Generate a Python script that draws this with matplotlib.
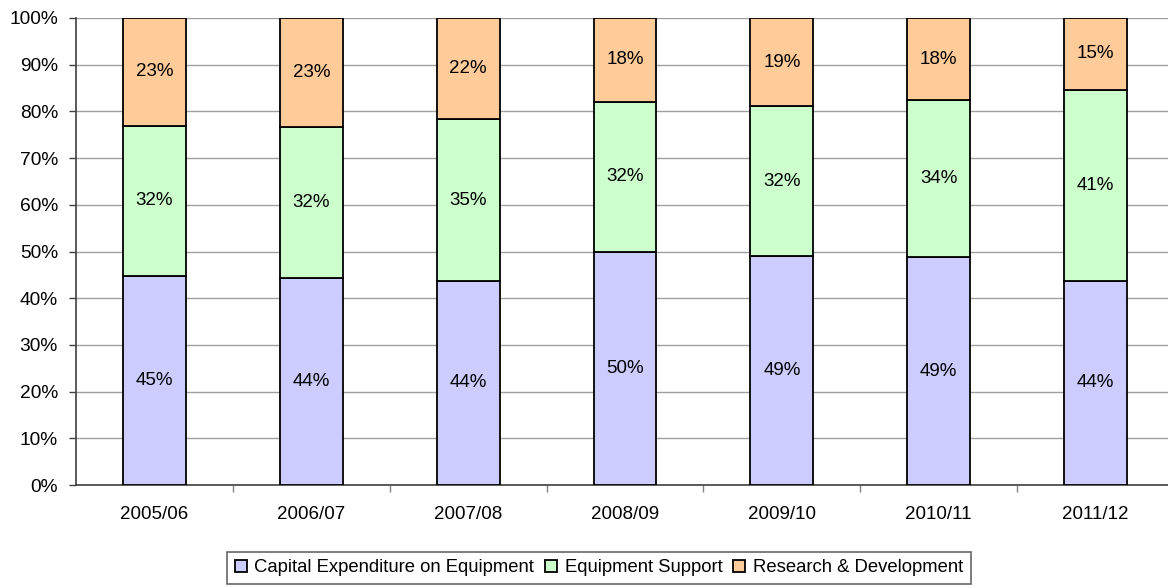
import numpy as np
import matplotlib.pyplot as plt

plt.rcParams['font.family'] = ['Liberation Sans', 'DejaVu Sans']

years = ['2005/06', '2006/07', '2007/08', '2008/09', '2009/10', '2010/11', '2011/12']
capex = [44.8, 44.3, 43.7, 49.9, 49.0, 48.8, 43.7]
support = [32.1, 32.3, 34.6, 32.2, 32.1, 33.6, 40.9]
rnd = [23.1, 23.4, 21.7, 17.9, 18.9, 17.6, 15.4]

series = [
  ('Capital Expenditure on Equipment', capex, '#CCCCFF'),
  ('Equipment Support', support, '#CCFFCC'),
  ('Research & Development', rnd, '#FFCC99'),
]

fig = plt.figure(figsize=(11.68, 5.88), dpi=100)
ax = fig.add_axes([76/1168, 103/588, 1098/1168, 467/588])

x = np.arange(len(years))
bottom = np.zeros(len(years))
for name, vals, col in series:
  bars = ax.bar(x, vals, 0.40, bottom=bottom, color=col, edgecolor='black',
                linewidth=1.3, label=name, zorder=3)
  ax.bar_label(bars, labels=[f'{v:.0f}%' for v in vals], label_type='center',
               fontsize=13.5, color='black', zorder=4)
  bottom += np.array(vals)

ax.set_xlim(-0.5, len(years) - 0.5)
ax.set_ylim(0, 100)
ax.set_yticks(np.arange(0, 101, 10))
ax.set_yticklabels([f'{v}%' for v in range(0, 101, 10)])
ax.yaxis.grid(True, color='#A0A0A0', linewidth=1.0)
ax.set_axisbelow(True)

ax.set_xticks(x)
ax.set_xticklabels(years)
ax.set_xticks(np.arange(len(years)) + 0.5, minor=True)
ax.tick_params(axis='x', which='major', length=0, pad=15, labelsize=13.5)
ax.tick_params(axis='x', which='minor', length=5, color='#808080', width=1)
ax.tick_params(axis='y', length=5, width=1, color='#404040', pad=8, labelsize=13.8)

for s in ('top', 'right'):
  ax.spines[s].set_visible(False)
ax.spines['left'].set_color('#404040')
ax.spines['bottom'].set_color('#404040')
ax.spines['left'].set_linewidth(1.2)
ax.spines['bottom'].set_linewidth(1.2)

leg = fig.legend(loc='center', bbox_to_anchor=(599/1168, 1 - 568/588), ncol=3,
                 fontsize=13.3, frameon=True, fancybox=False, handlelength=0.65,
                 handleheight=0.65, handletextpad=0.4, columnspacing=0.6,
                 borderpad=0.4, borderaxespad=0)
leg.get_frame().set_edgecolor('#404040')
leg.get_frame().set_linewidth(1.2)

fig.savefig('out.png', dpi=100)
